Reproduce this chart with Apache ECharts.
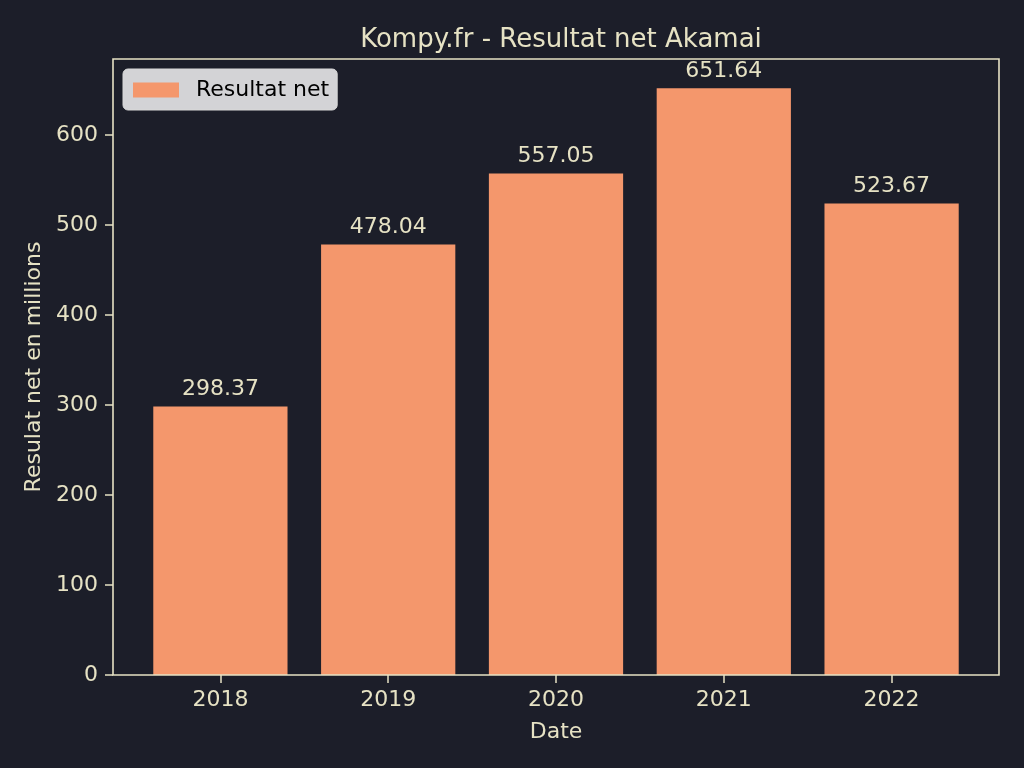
<!DOCTYPE html>
<html><head><meta charset="utf-8">
<script src="https://cdn.jsdelivr.net/npm/echarts@6/dist/echarts.min.js"></script>
<style>html,body{margin:0;padding:0;background:#1c1e29}#c{width:1024px;height:768px}</style>
</head><body><div id="c"></div>
<script>
var categories = ['2018', '2019', '2020', '2021', '2022'];
var resultatNet = [298.37, 478.04, 557.05, 651.64, 523.67];
var yTicks = [0, 100, 200, 300, 400, 500, 600];

var cream = '#e6e2c4';
var font = 'DejaVu Sans';
var chart = echarts.init(document.getElementById('c'), null, {renderer: 'canvas'});
chart.setOption({
  backgroundColor: '#1c1e29',
  animation: false,
  textStyle: {fontFamily: font},
  title: {
    text: 'Kompy.fr - Resultat net Akamai',
    left: 556, top: 22, textAlign: 'center',
    textStyle: {color: cream, fontSize: 26, fontWeight: 'normal', fontFamily: font}
  },
  legend: {
    left: 123, top: 69,
    backgroundColor: '#d3d3d6',
    borderColor: '#d8d8d8', borderWidth: 1, borderRadius: 5,
    padding: [10, 8, 9, 10],
    itemWidth: 46, itemHeight: 15,
    textStyle: {color: '#000', fontSize: 22, fontFamily: font, padding: [0, 0, 0, 12]},
    data: [{name: 'Resultat net', icon: 'rect'}]
  },
  grid: {left: 136.5, width: 839, top: 59, bottom: 93},
  xAxis: {
    type: 'category', data: categories,
    name: 'Date', nameLocation: 'middle', nameGap: 46,
    nameTextStyle: {color: cream, fontSize: 22, fontFamily: font},
    axisLine: {show: false},
    axisTick: {show: true, alignWithLabel: true, length: 8, lineStyle: {color: cream, width: 1.5}},
    axisLabel: {color: cream, fontSize: 22, margin: 14, fontFamily: font}
  },
  yAxis: {
    type: 'value', min: 0, max: 684.22, offset: 23.5,
    name: 'Resulat net en millions', nameLocation: 'middle', nameGap: 68,
    nameTextStyle: {color: cream, fontSize: 22, fontFamily: font},
    axisLine: {show: false},
    splitLine: {show: false},
    axisTick: {show: true, length: 8, customValues: yTicks, lineStyle: {color: cream, width: 1.5}},
    axisLabel: {color: cream, fontSize: 22, margin: 15, customValues: yTicks, fontFamily: font}
  },
  series: [{
    name: 'Resultat net', type: 'bar', data: resultatNet,
    barCategoryGap: '20%',
    itemStyle: {color: '#f4976c'},
    label: {show: true, position: 'top', distance: 6, color: cream, fontSize: 22, fontFamily: font,
      formatter: function (p) { return p.value.toFixed(2); }}
  }],
  graphic: [{
    type: 'rect', z: 100, silent: true,
    shape: {x: 113, y: 59, width: 886, height: 616},
    style: {fill: 'none', stroke: cream, lineWidth: 1.6}
  }]
});
</script></body></html>
